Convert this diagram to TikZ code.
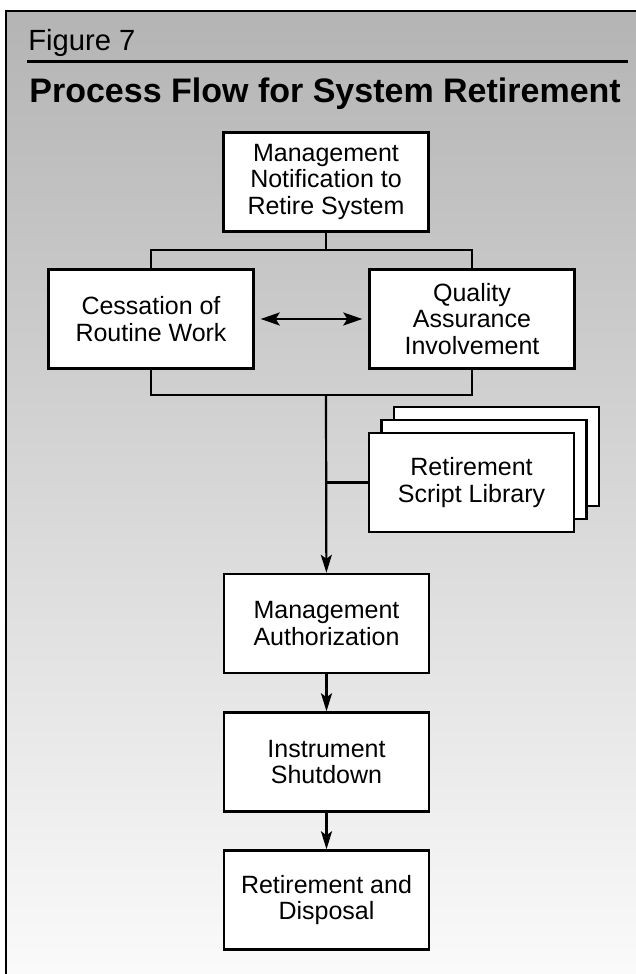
\documentclass[tikz,border=0pt]{standalone}
\usepackage{fontspec}
\setmainfont{Liberation Sans}
\usepackage{xcolor}
\usepackage{tikz}
\usetikzlibrary{positioning, shapes}
\usetikzlibrary{arrows.meta}

\definecolor{framegray}{RGB}{180,180,180}
\definecolor{paleend}{RGB}{251,251,251}

\begin{document}
\begin{tikzpicture}[x=0.5pt,y=0.5pt]
            \tikzset{box/.style = {draw, fill=white, line width=1.2pt, minimum width=102.5pt, minimum height=49.5pt, inner sep=2pt, align=center, font=\fontsize{12.5pt}{13.3pt}\selectfont}}
            \tikzset{link/.style = {line width=1.1pt}}
            \tikzset{arrow/.style = {link, -{Stealth[length=9pt,width=5.5pt,inset=2pt]}}}
            \tikzset{both/.style = {link, {Stealth[length=9.5pt,width=6.5pt,inset=2pt]}-{Stealth[length=9.5pt,width=6.5pt,inset=2pt]}, shorten <=3pt, shorten >=3pt}}

            \useasboundingbox (0,0) rectangle (636,974);
            \clip (0,0) rectangle (636,974);

            % frame
            \shade[top color=framegray, bottom color=paleend] (6,-10) rectangle (660,963);
            \draw[line width=1.3pt] (6,-10) -- (6,963) -- (660,963);

            % heading
            \node[anchor=base west, inner sep=0pt, font=\fontsize{14.6pt}{16pt}\selectfont] (fig) at (28,923) {Figure 7};
            \draw[line width=1.5pt] (27,912) -- (628,912);
            \node[anchor=base west, inner sep=0pt, font=\fontsize{17pt}{19pt}\selectfont\bfseries] (title) at (29,871) {Process Flow for System Retirement};

            \node[box] (notify) at (326,792) {Management\\Notification to\\Retire System};
            \node[box] (cease) at (151,655) {Cessation of\\Routine Work};
            \node[box] (qa) at (472,655) {Quality\\Assurance\\Involvement};

            \node[box] (lib3) at (496.5,517.5) {};
            \node[box] (lib2) at (484,504.5) {};
            \node[box] (lib) at (471.5,491.5) {Retirement\\Script Library};

            \node[box] (auth) at (326.5,350.5) {Management\\Authorization};
            \node[box] (shut) at (326.5,212) {Instrument\\Shutdown};
            \node[box] (dispose) at (326.5,74) {Retirement and\\Disposal};

            \coordinate (fork) at (326,724);
            \coordinate (join) at (326,579);
            \coordinate (tap) at (join |- lib.west);

            % connectors
            \draw[link] (notify) -- (fork);
            \draw[link] (cease.north) |- (fork) -| (qa.north);
            \draw[link] (cease.south) |- (join) -| (qa.south);
            \draw[link] (tap) -- (lib.west);
            \draw[both] (cease) -- (qa);

            % arrows
            \draw[arrow] (join) -- (auth);
            \draw[arrow] (auth) -- (shut);
            \draw[arrow] (shut) -- (dispose);

        \end{tikzpicture}
\end{document}
